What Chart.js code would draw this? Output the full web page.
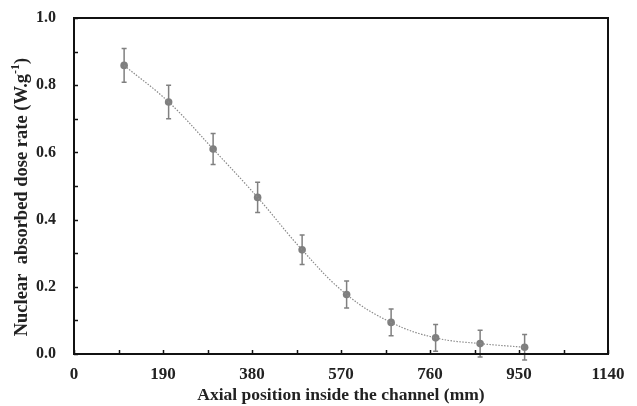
<!DOCTYPE html>
<html>
<head>
<meta charset="utf-8">
<script src="https://cdn.jsdelivr.net/npm/chart.js@4.4.1/dist/chart.umd.min.js"></script>
<style>
  html, body { margin: 0; padding: 0; background: #fff; }
  #wrap { width: 637px; height: 406px; }
</style>
</head>
<body>
<div id="wrap"><canvas id="doseChart" width="637" height="406"></canvas></div>
<script>
// Measured dose rate along the channel
const positions = [107, 202, 297, 392, 487, 582, 677, 772, 867, 962];      // mm
const doseRate = [0.859, 0.750, 0.610, 0.466, 0.310, 0.177, 0.094, 0.048, 0.031, 0.020]; // W/g
const doseError = [0.050, 0.050, 0.046, 0.045, 0.044, 0.040, 0.040, 0.040, 0.040, 0.038];

const xMax = 1140;
const xStep = 95;       // minor tick spacing, labels every 190
const yMax = 1.0;
const yStep = 0.1;      // minor tick spacing, labels every 0.2

const serif = "'Liberation Serif', 'Times New Roman', serif";
const markerGrey = '#7f7f7f';

const points = positions.map((x, i) => ({ x: x, y: doseRate[i] }));

// Error bars, drawn under the markers
const errorBars = {
    id: 'errorBars',
    beforeDatasetsDraw(chart) {
        const { ctx, scales: { x, y } } = chart;
        ctx.save();
        ctx.strokeStyle = '#808080';
        ctx.lineWidth = 1.5;
        positions.forEach((px, i) => {
            const cx = x.getPixelForValue(px);
            const top = y.getPixelForValue(doseRate[i] + doseError[i]);
            const bot = y.getPixelForValue(doseRate[i] - doseError[i]);
            ctx.beginPath();
            ctx.moveTo(cx, top); ctx.lineTo(cx, bot);
            ctx.moveTo(cx - 2.5, top); ctx.lineTo(cx + 2.5, top);
            ctx.moveTo(cx - 2.5, bot); ctx.lineTo(cx + 2.5, bot);
            ctx.stroke();
        });
        ctx.restore();
    }
};

// Frame, inward tick marks and the rotated y title with superscript
const frame = {
    id: 'frame',
    afterDraw(chart) {
        const { ctx, chartArea: a, scales: { x, y } } = chart;
        ctx.save();
        ctx.strokeStyle = '#111';
        ctx.lineWidth = 2;
        ctx.strokeRect(a.left, a.top, a.right - a.left, a.bottom - a.top);

        ctx.lineWidth = 1.5;
        ctx.beginPath();
        x.ticks.forEach(t => {
            const px = Math.round(x.getPixelForValue(t.value)) + 0.5;
            ctx.moveTo(px, a.bottom); ctx.lineTo(px, a.bottom - 4);
        });
        y.ticks.forEach(t => {
            const py = Math.round(y.getPixelForValue(t.value)) + 0.5;
            ctx.moveTo(a.left, py); ctx.lineTo(a.left + 4, py);
        });
        ctx.stroke();

        // y title
        const main = 'Nuclear  absorbed dose rate (W.g';
        const sup = '-1';
        const tail = ')';
        ctx.fillStyle = '#222';
        ctx.textBaseline = 'middle';
        ctx.textAlign = 'left';
        ctx.translate(22, 197);
        ctx.rotate(-Math.PI / 2);
        const big = 'bold 18.5px ' + serif;
        const small = 'bold 12px ' + serif;
        ctx.font = big;
        const wMain = ctx.measureText(main).width;
        const wTail = ctx.measureText(tail).width;
        ctx.font = small;
        const wSup = ctx.measureText(sup).width;
        let cx = -(wMain + wSup + wTail) / 2;
        ctx.font = big;
        ctx.fillText(main, cx, 0);
        cx += wMain;
        ctx.font = small;
        ctx.fillText(sup, cx, -6);
        cx += wSup;
        ctx.font = big;
        ctx.fillText(tail, cx, 0);
        ctx.restore();
    }
};

new Chart(document.getElementById('doseChart').getContext('2d'), {
    type: 'scatter',
    data: {
        datasets: [
            {
                // smoothed dotted curve through the measurements
                type: 'line',
                data: points,
                borderColor: '#8a8a8a',
                borderWidth: 1.2,
                borderDash: [1.5, 1.5],
                tension: 0.4,
                pointRadius: 0,
                fill: false
            },
            {
                data: points,
                backgroundColor: markerGrey,
                borderColor: markerGrey,
                borderWidth: 0,
                pointRadius: 3.8
            }
        ]
    },
    options: {
        responsive: false,
        animation: false,
        layout: { padding: { top: 18, right: 29, left: 0, bottom: 0 } },
        plugins: {
            legend: { display: false },
            tooltip: { enabled: false }
        },
        scales: {
            x: {
                type: 'linear',
                min: 0,
                max: xMax,
                grid: { display: false },
                border: { display: false },
                ticks: {
                    stepSize: xStep,
                    autoSkip: false,
                    maxRotation: 0,
                    padding: 2,
                    color: '#222',
                    font: { family: serif, size: 17, weight: 'bold' },
                    callback: v => (v % 190 === 0 ? String(v) : '')
                },
                title: {
                    display: true,
                    text: 'Axial position inside the channel (mm)',
                    color: '#222',
                    font: { family: serif, size: 17.5, weight: 'bold' },
                    padding: { top: 0, bottom: 0 }
                },
                afterFit(scale) {
                    scale.height = 52;
                    scale.paddingLeft = 0;
                    scale.paddingRight = 0;
                }
            },
            y: {
                min: 0,
                max: yMax,
                grid: { display: false },
                border: { display: false },
                ticks: {
                    stepSize: yStep,
                    autoSkip: false,
                    padding: 10,
                    color: '#222',
                    font: { family: serif, size: 16, weight: 'bold' },
                    callback: v => (Math.round(v * 10) % 2 === 0 ? v.toFixed(1) : '')
                },
                afterFit(scale) {
                    scale.width = 74;
                    scale.paddingTop = 0;
                    scale.paddingBottom = 0;
                }
            }
        }
    },
    plugins: [errorBars, frame]
});
</script>
</body>
</html>
